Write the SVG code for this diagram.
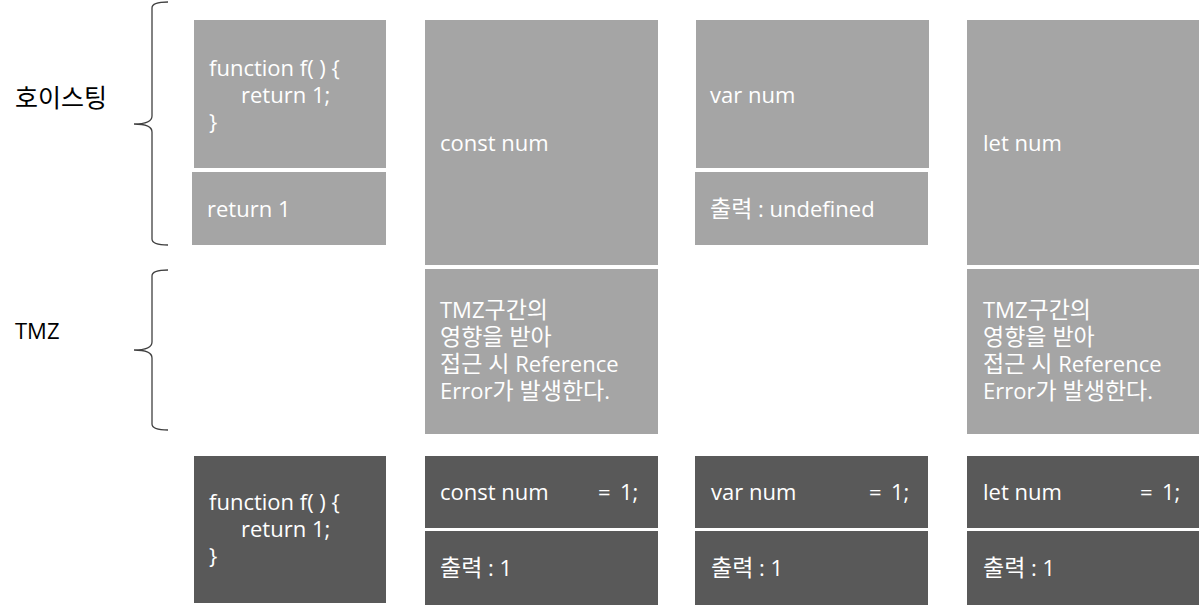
<svg xmlns="http://www.w3.org/2000/svg" width="1199" height="605" viewBox="0 0 1199 605">
<style>
.l{fill:#a5a5a5}
.d{fill:#595959}
.t{fill:#ffffff;font-family:"Open Sans","Noto Sans CJK KR",sans-serif;font-size:22px}
.k{font-size:23px}
.lab{fill:#000000;font-family:"Open Sans","Noto Sans CJK KR",sans-serif;font-size:22px}
.br{fill:none;stroke:#404040;stroke-width:1.3}
</style>
<rect width="1199" height="605" fill="#ffffff"/>
<g id="label-hoisting"><text class="lab" x="15" y="107" style="font-size:25px">호이스팅</text></g>
<g id="label-tmz"><text class="lab" x="15" y="339">TMZ</text></g>
<g id="connectors">
<path class="br" d="M168,2 Q152,2 152,8 L152,116 Q152,124 134,124 Q152,124 152,132 L152,239 Q152,245 168,245"/>
<path class="br" d="M168,270 Q152,270 152,276 L152,342 Q152,350 134,350 Q152,350 152,358 L152,424 Q152,430 168,430"/>
</g>
<g id="n-func-decl"><rect class="l" x="194" y="20" width="192" height="148"/>
<text class="t"><tspan x="209" y="76">function f( ) {</tspan><tspan x="241" y="103">return 1;</tspan><tspan x="209" y="130">}</tspan></text></g>
<g id="n-return"><rect class="l" x="192" y="172" width="194" height="73"/><text class="t" x="207" y="217">return 1</text></g>
<g id="n-const-hoist"><rect class="l" x="425" y="20" width="233" height="245"/><text class="t" x="440" y="151">const num</text></g>
<g id="n-const-tmz"><rect class="l" x="425" y="269" width="233" height="165"/>
<text class="t"><tspan x="440" y="318">TMZ<tspan class="k">구간의</tspan></tspan><tspan x="440" y="345" class="k">영향을 받아</tspan><tspan x="440" y="372"><tspan class="k">접근 시</tspan> Reference</tspan><tspan x="440" y="399">Error<tspan class="k">가 발생한다</tspan>.</tspan></text></g>
<g id="n-var-hoist"><rect class="l" x="696" y="20" width="233" height="148"/><text class="t" x="710" y="103">var num</text></g>
<g id="n-var-out"><rect class="l" x="695" y="172" width="233" height="73"/><text class="t" x="710" y="217"><tspan class="k">출력</tspan> : undefined</text></g>
<g id="n-let-hoist"><rect class="l" x="967" y="20" width="232" height="245"/><text class="t" x="983" y="151">let num</text></g>
<g id="n-let-tmz"><rect class="l" x="967" y="269" width="232" height="165"/>
<text class="t"><tspan x="983" y="318">TMZ<tspan class="k">구간의</tspan></tspan><tspan x="983" y="345" class="k">영향을 받아</tspan><tspan x="983" y="372"><tspan class="k">접근 시</tspan> Reference</tspan><tspan x="983" y="399">Error<tspan class="k">가 발생한다</tspan>.</tspan></text></g>
<g id="n-func-run"><rect class="d" x="194" y="456" width="192" height="147"/>
<text class="t"><tspan x="209" y="510">function f( ) {</tspan><tspan x="241" y="537">return 1;</tspan><tspan x="209" y="564">}</tspan></text></g>
<g id="n-const-run"><rect class="d" x="425" y="456" width="233" height="72"/><text class="t"><tspan x="440" y="500">const num</tspan><tspan x="598" y="500">=</tspan><tspan x="620" y="500">1;</tspan></text></g>
<g id="n-const-out"><rect class="d" x="425" y="531" width="233" height="74"/><text class="t" x="440" y="576"><tspan class="k">출력</tspan> : 1</text></g>
<g id="n-var-run"><rect class="d" x="695" y="456" width="233" height="72"/><text class="t"><tspan x="711" y="500">var num</tspan><tspan x="869" y="500">=</tspan><tspan x="891" y="500">1;</tspan></text></g>
<g id="n-var-out2"><rect class="d" x="695" y="531" width="233" height="74"/><text class="t" x="711" y="576"><tspan class="k">출력</tspan> : 1</text></g>
<g id="n-let-run"><rect class="d" x="967" y="456" width="232" height="72"/><text class="t"><tspan x="983" y="500">let num</tspan><tspan x="1140" y="500">=</tspan><tspan x="1162" y="500">1;</tspan></text></g>
<g id="n-let-out"><rect class="d" x="967" y="531" width="232" height="74"/><text class="t" x="983" y="576"><tspan class="k">출력</tspan> : 1</text></g>
</svg>
